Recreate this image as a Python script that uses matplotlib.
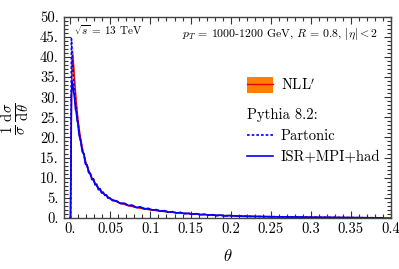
import matplotlib
matplotlib.use("Agg")
import matplotlib.pyplot as plt
from matplotlib.lines import Line2D
from matplotlib.patches import Patch
from matplotlib.ticker import MultipleLocator

plt.rcParams["font.family"] = ["cmr10", "DejaVu Serif"]
plt.rcParams["mathtext.fontset"] = "cm"
plt.rcParams["axes.unicode_minus"] = False

# NLL' prediction (central value and band)
theta_nll = [0.0, 0.001, 0.002, 0.003, 0.004, 0.005, 0.0075, 0.01, 0.0125, 0.015,
             0.02, 0.025, 0.03, 0.035, 0.04, 0.05, 0.06, 0.07, 0.08, 0.09,
             0.1, 0.12, 0.14, 0.16, 0.18, 0.2, 0.22, 0.24, 0.26, 0.28,
             0.3, 0.32, 0.34, 0.36, 0.38, 0.4]
nll_mid = [0.0, 18.0, 38.0, 40.5, 38.0, 35.0, 28.5, 23.5, 20.0, 17.3,
           13.3, 10.7, 8.8, 7.4, 6.3, 4.8, 3.85, 3.2, 2.7, 2.3,
           2.0, 1.5, 1.15, 0.9, 0.7, 0.55, 0.45, 0.36, 0.29, 0.23,
           0.18, 0.14, 0.1, 0.07, 0.05, 0.03]
nll_lo = [0.0, 16.5, 35.0, 37.5, 35.5, 33.0, 27.0, 22.4, 19.1, 16.6,
          12.8, 10.3, 8.5, 7.1, 6.1, 4.65, 3.72, 3.1, 2.62, 2.22,
          1.93, 1.45, 1.1, 0.86, 0.67, 0.52, 0.42, 0.33, 0.27, 0.21,
          0.16, 0.12, 0.09, 0.06, 0.04, 0.02]
nll_hi = [0.0, 19.5, 41.0, 42.5, 40.0, 36.8, 29.8, 24.5, 20.8, 18.0,
          13.8, 11.1, 9.1, 7.7, 6.5, 4.95, 3.98, 3.3, 2.79, 2.38,
          2.07, 1.56, 1.2, 0.94, 0.73, 0.58, 0.48, 0.39, 0.31, 0.25,
          0.2, 0.16, 0.11, 0.08, 0.06, 0.04]

# Pythia 8.2 histograms
theta_py = [0.0, 0.0005, 0.0015, 0.0025, 0.0035, 0.0045, 0.0055, 0.0065, 0.0075, 0.0085,
            0.0095, 0.011, 0.013, 0.015, 0.017, 0.019, 0.021, 0.023, 0.025, 0.027,
            0.029, 0.031, 0.033, 0.035, 0.037, 0.039, 0.041, 0.043, 0.045, 0.047,
            0.049, 0.0525, 0.0575, 0.0625, 0.0675, 0.0725, 0.0775, 0.0825, 0.0875, 0.0925,
            0.0975, 0.1025, 0.1075, 0.1125, 0.1175, 0.1225, 0.1275, 0.1325, 0.1375, 0.1425,
            0.1475, 0.1525, 0.1575, 0.1625, 0.1675, 0.1725, 0.1775, 0.1825, 0.1875, 0.1925,
            0.1975, 0.21, 0.23, 0.25, 0.27, 0.29, 0.31, 0.33, 0.35, 0.37,
            0.39]
partonic = [0.0, 0.0, 44.5, 40.0, 36.5, 33.0, 31.2, 28.3, 27.2, 25.0,
            24.1, 21.2, 19.3, 16.8, 15.7, 13.6, 13.0, 11.4, 11.0, 9.7,
            9.6, 8.4, 8.3, 7.2, 7.2, 6.3, 6.3, 5.7, 5.6, 5.0,
            4.9, 4.4, 4.2, 3.6, 3.6, 3.1, 3.1, 2.6, 2.7, 2.3,
            2.3, 2.0, 2.0, 1.7, 1.75, 1.45, 1.5, 1.25, 1.3, 1.1,
            1.1, 0.95, 1.0, 0.8, 0.85, 0.7, 0.75, 0.6, 0.65, 0.5,
            0.55, 0.45, 0.35, 0.3, 0.25, 0.2, 0.15, 0.12, 0.08, 0.04,
            0.02]
isr_mpi_had = [0.0, 0.0, 31.0, 34.0, 32.5, 31.0, 29.6, 27.0, 26.4, 24.2,
               23.5, 20.6, 19.0, 16.4, 15.9, 13.3, 13.2, 11.2, 11.1, 9.5,
               9.7, 8.2, 8.4, 7.0, 7.3, 6.2, 6.4, 5.6, 5.7, 4.9,
               5.0, 4.3, 4.25, 3.55, 3.65, 3.05, 3.15, 2.55, 2.75, 2.25,
               2.35, 1.95, 2.05, 1.65, 1.8, 1.4, 1.55, 1.2, 1.35, 1.05,
               1.15, 0.9, 1.05, 0.75, 0.9, 0.65, 0.8, 0.55, 0.7, 0.45,
               0.6, 0.42, 0.33, 0.28, 0.24, 0.18, 0.14, 0.1, 0.07, 0.03,
               0.01]

x_ticks = [0.0, 0.05, 0.1, 0.15, 0.2, 0.25, 0.3, 0.35, 0.4]
x_tick_labels = ["0.", "0.05", "0.1", "0.15", "0.2", "0.25", "0.3", "0.35", "0.4"]
y_ticks = [0, 5, 10, 15, 20, 25, 30, 35, 40, 45, 50]
y_tick_labels = ["0.", "5.", "10.", "15.", "20.", "25.", "30.", "35.", "40.", "45.", "50."]

orange = "#ff8000"
red = "#e8000b"
blue = "#0000ff"
dash = (0, (1.6, 1.2))

fig = plt.figure(figsize=(3.99, 2.69), dpi=100)
ax = fig.add_axes([0.160, 0.190, 0.820, 0.748])

ax.fill_between(theta_nll, nll_lo, nll_hi, color=orange, lw=0, zorder=1)
ax.plot(theta_nll, nll_mid, color=red, lw=1.0, zorder=2)
ax.plot(theta_py, partonic, color=blue, lw=1.2, ls=dash, zorder=3)
ax.plot(theta_py, isr_mpi_had, color=blue, lw=1.2, zorder=4)

ax.set_xlim(-0.008, 0.4)
ax.set_ylim(0, 50)
ax.set_xticks(x_ticks)
ax.set_xticklabels(x_tick_labels)
ax.set_yticks(y_ticks)
ax.set_yticklabels(y_tick_labels)
ax.xaxis.set_minor_locator(MultipleLocator(0.01))
ax.yaxis.set_minor_locator(MultipleLocator(1))
ax.tick_params(which="both", direction="in", top=True, right=True,
               labelsize=10.5, width=0.8, color="#333333")
ax.tick_params(which="major", length=5)
ax.tick_params(which="minor", length=2.8)
for spine in ax.spines.values():
    spine.set_linewidth(1.0)
    spine.set_color("#444444")

ax.set_xlabel(r"$\theta$", fontsize=12, labelpad=8)
fig.text(0.04, 0.56, r"$\frac{1}{\sigma}\,\frac{\mathrm{d}\sigma}{\mathrm{d}\theta}$",
         fontsize=15, ha="center", va="center", rotation=90)

ax.text(0.03, 0.935, r"$\sqrt{s}$ = 13 TeV", transform=ax.transAxes,
        fontsize=8, ha="left", va="center")
ax.text(0.96, 0.915, r"$p_T$ = 1000-1200 GeV, $R$ = 0.8, $|\eta| < 2$",
        transform=ax.transAxes, fontsize=8.5, ha="right", va="center")

nll_handle = (Patch(facecolor=orange, edgecolor="none"), Line2D([], [], color=red, lw=1.0))
leg1 = ax.legend([nll_handle], [r"NLL$'$"], loc="upper left",
                 bbox_to_anchor=(0.56, 0.70), frameon=False, fontsize=10.5,
                 handlelength=1.8, handleheight=1.25, handletextpad=0.5,
                 borderaxespad=0, borderpad=0)
ax.add_artist(leg1)

py_handles = [Line2D([], [], color=blue, lw=1.2, ls=dash),
              Line2D([], [], color=blue, lw=1.2)]
leg2 = ax.legend(py_handles, ["Partonic", "ISR+MPI+had"], loc="upper left",
                 bbox_to_anchor=(0.56, 0.545), frameon=False, fontsize=10.5,
                 title="Pythia 8.2:", title_fontsize=10.5, alignment="left",
                 handlelength=1.8, handletextpad=0.5, labelspacing=0.5,
                 borderaxespad=0, borderpad=0)

fig.savefig("out.png", dpi=100)
